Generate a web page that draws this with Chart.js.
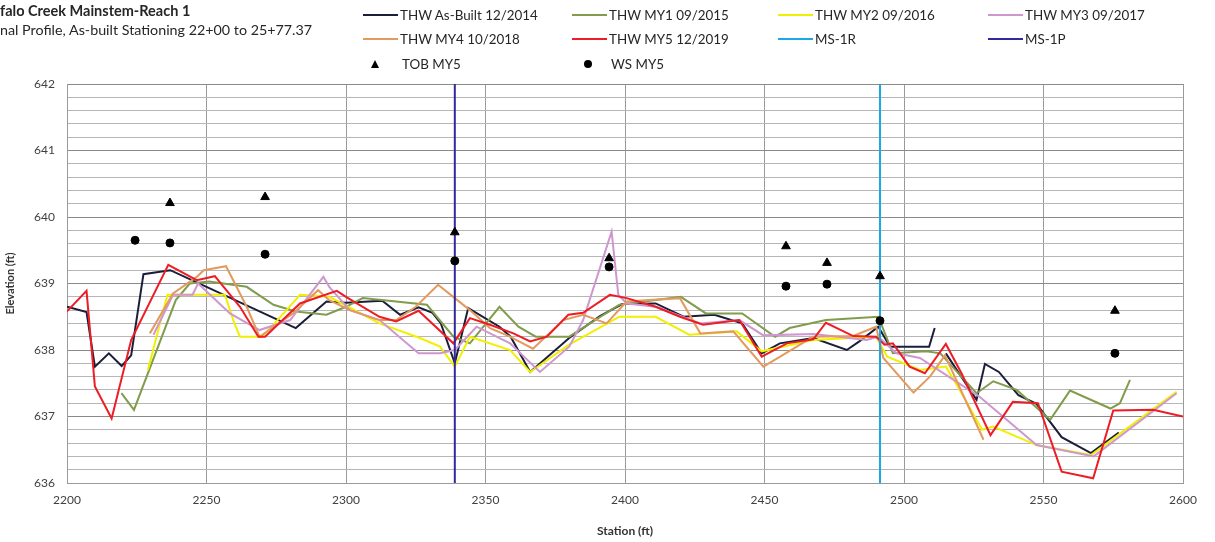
<!DOCTYPE html>
<html>
<head>
<meta charset="utf-8">
<script src="https://cdn.jsdelivr.net/npm/chart.js@4.4.1/dist/chart.umd.min.js"></script>
<style>
  html, body { margin: 0; padding: 0; background: #fff; }
  #wrap { position: relative; width: 1215px; height: 542px; overflow: hidden; font-family: Lato, "Open Sans", sans-serif; color: #262626; }
  #chart { position: absolute; left: 0; top: 0; }
  .title1 { position: absolute; left: 0; top: 2px; font-size: 14.5px; font-weight: bold; }
  .title2 { position: absolute; left: 0; top: 21px; font-size: 14.3px; }
  #legend { position: absolute; left: 0; top: 0; width: 1215px; height: 80px; }
  .item { position: absolute; display: flex; align-items: center; font-size: 13.4px; height: 18px; }
  .swatch { width: 35px; height: 2px; margin-right: 2px; }
  .mark { width: 35px; height: 18px; margin-right: 4px; position: relative; }
  .tri { position: absolute; left: 8px; top: 5px; width: 0; height: 0; border-left: 4px solid transparent; border-right: 4px solid transparent; border-bottom: 8px solid #000; }
  .dot { position: absolute; left: 12px; top: 5px; width: 8px; height: 8px; border-radius: 50%; background: #000; }
</style>
</head>
<body>
<div id="wrap">
  <canvas id="chart" width="1215" height="542"></canvas>
  <div class="title1">falo Creek Mainstem-Reach 1</div>
  <div class="title2">nal Profile, As-built Stationing 22+00 to 25+77.37</div>
  <div id="legend"></div>
</div>
<script>
// stations (ft) and thalweg elevations (ft)
const asBuiltSta = [2200, 2207, 2210, 2215, 2219.6, 2223, 2227.4, 2237, 2250, 2269, 2282, 2293, 2300, 2313, 2319.4, 2326, 2331, 2334, 2339, 2343.8, 2355, 2359, 2366, 2380, 2391, 2399, 2411, 2421, 2432, 2442, 2449, 2455.5, 2467.5, 2479.5, 2484, 2490.8, 2495, 2509, 2511, 2512, 2515, 2526, 2529, 2534, 2541, 2547.5, 2556.5, 2567, 2577]
const asBuiltElev = [638.65, 638.57, 637.75, 637.95, 637.76, 637.92, 639.14, 639.2, 638.95, 638.58, 638.33, 638.73, 638.71, 638.74, 638.53, 638.64, 638.56, 638.4, 637.8, 638.63, 638.35, 638.2, 637.67, 638.18, 638.51, 638.69, 638.7, 638.5, 638.53, 638.4, 637.95, 638.1, 638.18, 638.0, 638.13, 638.35, 638.05, 638.05, 638.33, null, 637.95, 637.25, 637.79, 637.67, 637.32, 637.19, 636.69, 636.45, 636.76]

const my1Sta = [2219.5, 2224, 2239, 2244, 2251, 2264.4, 2274, 2282, 2293, 2300, 2306, 2329, 2338.5, 2344.4, 2355, 2361.8, 2368, 2380, 2398, 2420, 2429, 2442, 2453.8, 2459, 2472, 2490.8, 2496, 2508, 2513, 2526, 2532, 2540.4, 2552.4, 2559.5, 2574, 2577.4, 2581]
const my1Elev = [637.35, 637.1, 638.75, 639.0, 639.03, 638.95, 638.68, 638.58, 638.53, 638.65, 638.78, 638.68, 638.2, 638.1, 638.65, 638.35, 638.2, 638.2, 638.68, 638.8, 638.55, 638.55, 638.2, 638.33, 638.45, 638.5, 637.95, 637.98, 637.95, 637.35, 637.53, 637.4, 636.95, 637.39, 637.12, 637.2, 637.55]

const my2Sta = [2229, 2236, 2256.6, 2260, 2262, 2270, 2278.7, 2283.5, 2294, 2312, 2326.5, 2333.7, 2339, 2344.4, 2358.8, 2366, 2380, 2398, 2411, 2423, 2440, 2449, 2467.5, 2490, 2494, 2505.7, 2515, 2520, 2528, 2532, 2547.5, 2567, 2597.7]
const my2Elev = [637.7, 638.83, 638.83, 638.4, 638.2, 638.2, 638.6, 638.83, 638.8, 638.4, 638.18, 638.05, 637.75, 638.2, 638.0, 637.67, 638.08, 638.5, 638.5, 638.23, 638.28, 637.98, 638.15, 638.2, 637.9, 637.7, 637.75, 637.4, 636.8, 636.85, 636.57, 636.42, 637.37]

const my3Sta = [2231, 2238, 2245, 2247, 2258.4, 2269, 2280, 2291.9, 2294, 2301.4, 2312, 2326, 2333.7, 2339, 2346.8, 2358.8, 2369.5, 2380, 2385, 2395.2, 2397.6, 2400.6, 2411, 2427, 2441, 2449.6, 2467.5, 2486.6, 2490.7, 2497.3, 2505.7, 2527, 2532.6, 2547.5, 2568, 2597.7]
const my3Elev = [638.23, 638.83, 638.83, 639.0, 638.55, 638.3, 638.45, 639.1, 638.95, 638.6, 638.45, 637.95, 637.95, 638.0, 638.35, 638.1, 637.67, 638.05, 638.45, 639.78, 638.83, 638.7, 638.65, 638.4, 638.45, 638.22, 638.24, 638.15, 638.2, 637.95, 637.88, 637.3, 637.1, 636.57, 636.4, 637.35]

const my4Sta = [2229.7, 2238, 2246.5, 2249, 2257, 2264.4, 2269, 2281, 2290, 2294, 2301.4, 2312, 2318, 2325, 2333, 2339, 2344.4, 2351.6, 2358.8, 2367, 2377.9, 2385, 2393.4, 2400.6, 2419.7, 2427, 2438.8, 2449.6, 2467.5, 2481.8, 2490, 2492.6, 2503.4, 2509.3, 2514.7, 2528.5]
const my4Elev = [638.25, 638.85, 639.1, 639.2, 639.26, 638.65, 638.2, 638.55, 638.9, 638.75, 638.6, 638.45, 638.45, 638.65, 638.98, 638.78, 638.6, 638.33, 638.2, 638.02, 638.45, 638.53, 638.4, 638.73, 638.78, 638.25, 638.28, 637.75, 638.2, 638.21, 638.35, 637.88, 637.36, 637.6, 637.92, 636.65]

const my5Sta = [2200, 2207, 2210, 2216, 2223, 2236.3, 2246.5, 2253, 2262, 2268.6, 2271, 2283.5, 2296.7, 2300, 2312, 2318, 2326, 2338.5, 2344.4, 2351.6, 2360, 2366, 2372, 2379.7, 2385, 2394.6, 2400.6, 2411, 2419.7, 2428, 2441, 2449, 2458, 2467.5, 2472, 2481.8, 2490, 2493, 2496, 2502, 2507.5, 2515, 2520.6, 2531, 2539, 2548, 2556.5, 2567.8, 2575, 2589.3, 2600]
const my5Elev = [638.58, 638.89, 637.45, 636.97, 638.15, 639.28, 639.05, 639.11, 638.65, 638.2, 638.2, 638.7, 638.89, 638.8, 638.5, 638.43, 638.59, 638.1, 638.48, 638.38, 638.25, 638.13, 638.2, 638.53, 638.56, 638.83, 638.78, 638.65, 638.5, 638.38, 638.45, 637.9, 638.1, 638.16, 638.41, 638.21, 638.2, 638.08, 638.1, 637.75, 637.65, 638.09, 637.65, 636.72, 637.22, 637.2, 636.17, 636.07, 637.09, 637.1, 637.0]

// top of bank / water surface survey points
const tobSta = [2236.9, 2271, 2339, 2394.3, 2457.7, 2472.4, 2491.4, 2575.6]
const tobElev = [640.21, 640.3, 639.77, 639.38, 639.56, 639.31, 639.11, 638.59]
const wsSta = [2224.4, 2236.9, 2271, 2339, 2394.3, 2457.7, 2472.4, 2491.4, 2575.6]
const wsElev = [639.65, 639.61, 639.44, 639.34, 639.25, 638.96, 638.99, 638.44, 637.95]

// monitoring stations (vertical markers)
const ms1rSta = 2491.4
const ms1pSta = 2339
const elevRange = [636, 642]
const stationTicks = [2200, 2600, 50]

const pts = (sta, elev) => sta.map((s, i) => ({ x: s, y: elev[i] }))
const vline = s => elevRange.map(e => ({ x: s, y: e }))

const line = (label, data, color, order) => ({
  type: 'line', label, data, borderColor: color, backgroundColor: color,
  borderWidth: 2, pointRadius: 0, tension: 0, spanGaps: false, order
})

const datasets = [
  line('THW As-Built 12/2014', pts(asBuiltSta, asBuiltElev), '#1b1e3a', 7),
  line('THW MY1 09/2015', pts(my1Sta, my1Elev), '#809c4c', 6),
  line('THW MY2 09/2016', pts(my2Sta, my2Elev), '#f0f000', 5),
  line('THW MY3 09/2017', pts(my3Sta, my3Elev), '#cf97cf', 4),
  line('THW MY4 10/2018', pts(my4Sta, my4Elev), '#e39a5e', 3),
  line('THW MY5 12/2019', pts(my5Sta, my5Elev), '#ee1c25', 2),
  line('MS-1R', vline(ms1rSta), '#1ea7e6', 1),
  line('MS-1P', vline(ms1pSta), '#33299a', 1),
  { type: 'scatter', label: 'TOB MY5', data: pts(tobSta, tobElev), pointStyle: 'triangle', pointRadius: 5, backgroundColor: '#000', borderColor: '#000', order: 0 },
  { type: 'scatter', label: 'WS MY5', data: pts(wsSta, wsElev), pointStyle: 'circle', pointRadius: 4, backgroundColor: '#000', borderColor: '#000', order: 0 }
]

const isMajor = v => Math.abs(v - Math.round(v)) < 1e-6

const chart = new Chart('chart', {
  type: 'line',
  data: { datasets },
  options: {
    responsive: false,
    animation: false,
    layout: { padding: { top: 84, right: 32, left: 0, bottom: 0 } },
    plugins: { legend: { display: false }, tooltip: { enabled: false } },
    scales: {
      x: {
        type: 'linear', min: stationTicks[0], max: stationTicks[1],
        ticks: { stepSize: stationTicks[2], padding: 10, color: '#404040', font: { family: 'Lato', size: 12 }, callback: v => String(v) },
        grid: { color: '#9a9a9a', drawTicks: false },
        border: { color: '#9a9a9a' },
        title: { display: true, text: 'Station (ft)', color: '#333', font: { family: 'Lato', size: 12, weight: 'bold' }, padding: { top: 4 } },
        afterFit: s => { s.height = 59 }
      },
      y: {
        min: elevRange[0], max: elevRange[1],
        ticks: {
          stepSize: 0.2, autoSkip: false, padding: 12, color: '#404040', font: { family: 'Lato', size: 12 },
          callback: v => isMajor(v) ? String(Math.round(v)) : ''
        },
        grid: { color: c => isMajor(c.tick.value) ? '#8a8a8a' : '#b6b6b6', drawTicks: false },
        border: { color: '#9a9a9a' },
        title: { display: true, text: 'Elevation (ft)', color: '#333', font: { family: 'Lato', size: 11, weight: 'bold' } },
        afterFit: s => { s.width = 67 }
      }
    }
  }
})

// legend laid out as a 4-column grid like the spreadsheet one
const legendCols = [363, 572, 778, 988]
const legendRows = [6, 30, 55]
const legendEl = document.getElementById('legend')
chart.data.datasets.forEach((ds, i) => {
  const item = document.createElement('div')
  item.className = 'item'
  item.style.left = legendCols[i % 4] + 'px'
  item.style.top = legendRows[Math.floor(i / 4)] + 'px'
  if (ds.type === 'scatter') {
    const m = document.createElement('div')
    m.className = 'mark'
    const shape = document.createElement('div')
    shape.className = ds.pointStyle === 'triangle' ? 'tri' : 'dot'
    m.appendChild(shape)
    item.appendChild(m)
  } else {
    const sw = document.createElement('div')
    sw.className = 'swatch'
    sw.style.background = ds.borderColor
    item.appendChild(sw)
  }
  const t = document.createElement('span')
  t.textContent = ds.label
  item.appendChild(t)
  legendEl.appendChild(item)
})
</script>
</body>
</html>
